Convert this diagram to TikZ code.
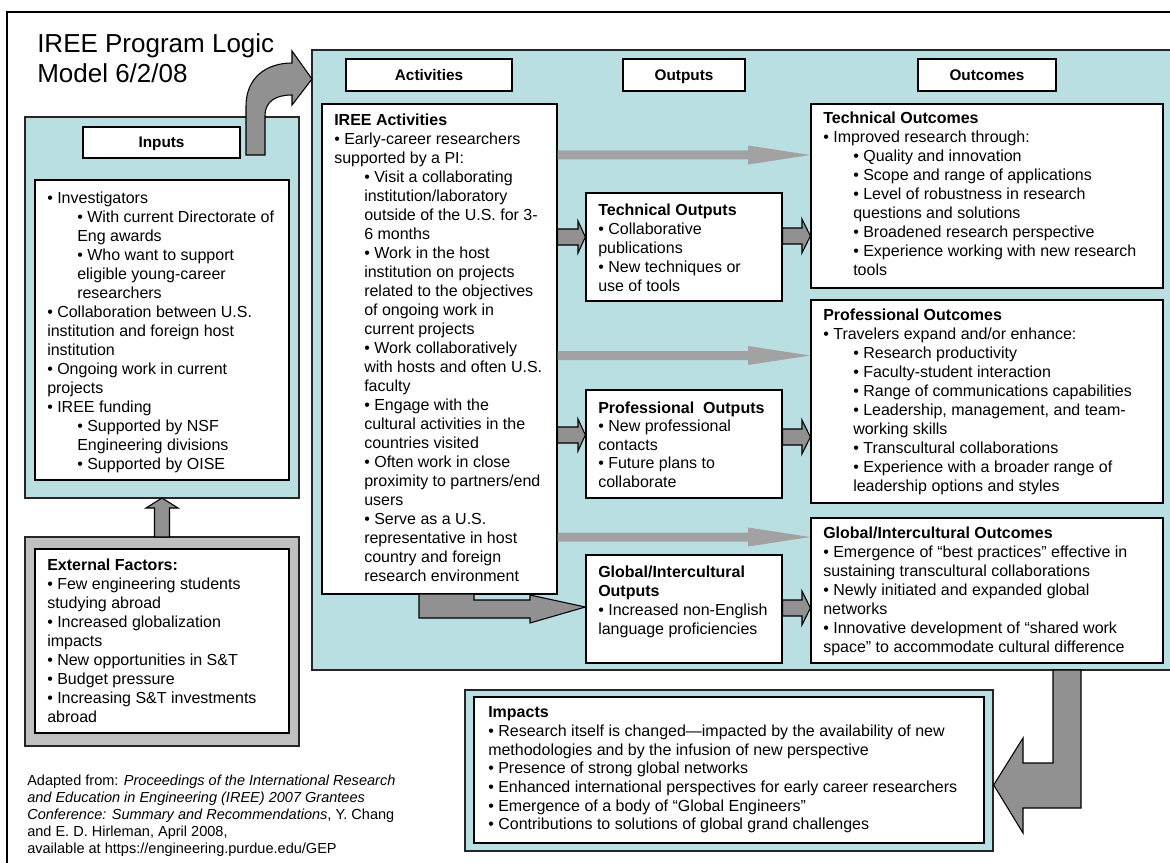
\documentclass[tikz,border=0pt]{standalone}
\usepackage{fontspec}
\setmainfont{Liberation Sans}
\usetikzlibrary{fit}
\definecolor{tealbg}{RGB}{186,223,227}
\definecolor{garr}{RGB}{145,145,145}
\definecolor{larr}{RGB}{162,162,162}
\definecolor{gpanel}{RGB}{192,192,192}
\newcommand{\ind}{\hspace*{22.5pt}}
\newcommand{\bodyfont}{\fontsize{12}{14.25}\selectfont}
\begin{document}
\begin{tikzpicture}[x=0.75pt,y=-0.75pt,
  panel/.style={draw=black!85, line width=1pt, fill=tealbg, inner sep=0pt},
  gpan/.style={draw=black!85, line width=1pt, fill=gpanel, inner sep=0pt},
  wbox/.style={draw=black, line width=1pt, fill=white, inner sep=0pt},
  hdr/.style={font=\fontsize{11.5}{13}\selectfont\bfseries, inner sep=0pt, text height=8.2pt, text depth=0.4pt},
  txt/.style={anchor=north west, inner sep=0pt, align=left, font=\bodyfont},
  barrow/.style={draw=black, line width=0.8pt, fill=garr, line join=miter},
  larrow/.style={fill=larr},
]
\useasboundingbox (0,0) rectangle (1170,863);
\clip (0,0) rectangle (1170,863);
\fill[white] (0,0) rectangle (1170,863);
\draw[line width=1.5pt] (7,880) -- (7,12) -- (1190,12);

% title
\node[anchor=north west, inner sep=0pt, align=left, font=\fontsize{19.5}{22.5}\selectfont] (title) at (37,33.4)
  {IREE Program Logic\\Model 6/2/08};

% main teal panel
\node[panel, fit={(312,50) (1185,670)}] (main) {};

% left column
\node[panel, fit={(25,117) (299,498)}] (inp) {};
\node[wbox, fit={(83,127) (240,158)}] (inph) {};
\node[hdr] (inpl) at (inph.center) {Inputs};
\node[wbox, fit={(35,180) (289,480)}] (inpb) {};
\node[txt] (inpt) at (47,191.5) {%
• Investigators\\
\ind • With current Directorate of\\
\ind Eng awards\\
\ind • Who want to support\\
\ind eligible young-career\\
\ind researchers\\
• Collaboration between U.S.\\
institution and foreign host\\
institution\\
• Ongoing work in current\\
projects\\
• IREE funding\\
\ind • Supported by NSF\\
\ind Engineering divisions\\
\ind • Supported by OISE};

\node[gpan, fit={(25,537) (299,746)}] (ext) {};
\node[wbox, fit={(35,549) (289,733)}] (extb) {};
\node[txt] (extt) at (47,558.5) {%
\textbf{External Factors:}\\
• Few engineering students\\
studying abroad\\
• Increased globalization\\
impacts\\
• New opportunities in S\&T\\
• Budget pressure\\
• Increasing S\&T investments\\
abroad};

% up arrow external -> inputs
\draw[barrow] (154.5,537) -- (154.5,508) -- (146,508) -- (162,498) -- (178,508) -- (169.5,508) -- (169.5,537) -- cycle;

% curved arrow inputs -> main
\draw[barrow] (246,155) -- (246,106) .. controls (246,78) and (266,63) .. (292,63) -- (292,51) -- (312,79) -- (292,105) -- (292,95) .. controls (276,95) and (265,101) .. (265,116) -- (265,155) -- cycle;

% footnote
\node[anchor=north west, inner sep=0pt, align=left, font=\fontsize{10.9}{12.8}\selectfont] (foot) at (27,774.6) {%
Adapted from: \textit{Proceedings of the International Research}\\
\textit{and Education in Engineering (IREE) 2007 Grantees}\\
\textit{Conference: Summary and Recommendations}, Y. Chang\\
and E. D. Hirleman, April 2008,\\
available at https://engineering.purdue.edu/GEP};

% column headers
\node[wbox, fit={(346,59) (512,91)}] (acth) {};
\node[hdr] (actl) at (acth.center) {Activities};
\node[wbox, fit={(623,59) (745,91)}] (outh) {};
\node[hdr] (outl) at (outh.center) {Outputs};
\node[wbox, fit={(918,59) (1056,91)}] (ocmh) {};
\node[hdr] (ocml) at (ocmh.center) {Outcomes};

% activities
\node[wbox, fit={(322,104) (557,594)}] (act) {};
\node[txt] (actt) at (334,113.5) {%
\textbf{IREE Activities}\\
• Early-career researchers\\
supported by a PI:\\
\ind • Visit a collaborating\\
\ind institution/laboratory\\
\ind outside of the U.S. for 3-\\
\ind 6 months\\
\ind • Work in the host\\
\ind institution on projects\\
\ind related to the objectives\\
\ind of ongoing work in\\
\ind current projects\\
\ind • Work collaboratively\\
\ind with hosts and often U.S.\\
\ind faculty\\
\ind • Engage with the\\
\ind cultural activities in the\\
\ind countries visited\\
\ind • Often work in close\\
\ind proximity to partners/end\\
\ind users\\
\ind • Serve as a U.S.\\
\ind representative in host\\
\ind country and foreign\\
\ind research environment};

% outputs
\node[wbox, fit={(586,193) (782,301)}] (tout) {};
\node[txt] (toutt) at (598,203.5) {%
\textbf{Technical Outputs}\\
• Collaborative\\
publications\\
• New techniques or\\
use of tools};
\node[wbox, fit={(586,390) (782,498)}] (pout) {};
\node[txt, font=\fontsize{12}{13.9}\selectfont] (poutt) at (598,401.5) {%
\textbf{Professional\ \ Outputs}\\
• New professional\\
contacts\\
• Future plans to\\
collaborate};
\node[wbox, fit={(586,555) (782,663)}] (gout) {};
\node[txt] (goutt) at (598,565.5) {%
\textbf{Global/Intercultural}\\
\textbf{Outputs}\\
• Increased non-English\\
language proficiencies};

% outcomes
\node[wbox, fit={(811,104) (1163,288)}] (toc) {};
\node[txt] (toct) at (823,111.5) {%
\textbf{Technical Outcomes}\\
• Improved research through:\\
\ind • Quality and innovation\\
\ind • Scope and range of applications\\
\ind • Level of robustness in research\\
\ind questions and solutions\\
\ind • Broadened research perspective\\
\ind • Experience working with new research\\
\ind tools};
\node[wbox, fit={(811,300) (1163,503)}] (poc) {};
\node[txt] (poct) at (823,308.5) {%
\textbf{Professional Outcomes}\\
• Travelers expand and/or enhance:\\
\ind • Research productivity\\
\ind • Faculty-student interaction\\
\ind • Range of communications capabilities\\
\ind • Leadership, management, and team-\\
\ind working skills\\
\ind • Transcultural collaborations\\
\ind • Experience with a broader range of\\
\ind leadership options and styles};
\node[wbox, fit={(811,518) (1163,663)}] (goc) {};
\node[txt] (goct) at (823,526.5) {%
\textbf{Global/Intercultural Outcomes}\\
• Emergence of “best practices” effective in\\
sustaining transcultural collaborations\\
• Newly initiated and expanded global\\
networks\\
• Innovative development of “shared work\\
space” to accommodate cultural difference};

% long light arrows activities -> outcomes
\fill[larrow] (act.east |- 0,150.5) -- (748,150.5) -- (748,145.5) -- (toc.west |- 0,155) -- (748,164.5) -- (748,159.5) -- (act.east |- 0,159.5) -- cycle;
\fill[larrow] (act.east |- 0,351) -- (748,351) -- (748,346) -- (poc.west |- 0,355.5) -- (748,365) -- (748,360) -- (act.east |- 0,360) -- cycle;
\fill[larrow] (act.east |- 0,532.5) -- (748,532.5) -- (748,527.5) -- (goc.west |- 0,537) -- (748,546.5) -- (748,541.5) -- (act.east |- 0,541.5) -- cycle;

% short bordered arrows activities -> outputs
\draw[barrow] (act.east |- 0,229) -- (578,229) -- (578,221) -- (tout.west |- 0,237) -- (578,253) -- (578,245) -- (act.east |- 0,245) -- cycle;
\draw[barrow] (act.east |- 0,427) -- (578,427) -- (578,419) -- (pout.west |- 0,435) -- (578,451) -- (578,443) -- (act.east |- 0,443) -- cycle;
% L arrow activities -> global outputs
\draw[barrow] (419,594) -- (419,618) -- (530,618) -- (530,623) -- (gout.west |- 0,607) -- (530,595) -- (530,600) -- (474,600) -- (474,594) -- cycle;

% short bordered arrows outputs -> outcomes
\draw[barrow] (tout.east |- 0,228) -- (802,228) -- (802,219) -- (toc.west |- 0,236) -- (802,253) -- (802,244) -- (tout.east |- 0,244) -- cycle;
\draw[barrow] (pout.east |- 0,429) -- (802,429) -- (802,420) -- (poc.west |- 0,437) -- (802,454) -- (802,445) -- (pout.east |- 0,445) -- cycle;
\draw[barrow] (gout.east |- 0,600) -- (802,600) -- (802,591) -- (goc.west |- 0,608) -- (802,625) -- (802,616) -- (gout.east |- 0,616) -- cycle;

% impacts
\node[panel, fit={(465,690) (993,851)}] (imp) {};
\node[wbox, fit={(474,697) (984,843)}] (impb) {};
\node[anchor=north west, inner sep=0pt, align=left, font=\fontsize{12}{14}\selectfont] (impt) at (488,706.5) {%
\textbf{Impacts}\\
• Research itself is changed—impacted by the availability of new\\
methodologies and by the infusion of new perspective\\
• Presence of strong global networks\\
• Enhanced international perspectives for early career researchers\\
• Emergence of a body of “Global Engineers”\\
• Contributions to solutions of global grand challenges};

% bent arrow main -> impacts
\draw[barrow] (1053,670) -- (1053,763) -- (1023,763) -- (1023,738) -- (imp.east |- 0,785) -- (1023,833) -- (1023,808) -- (1081,808) -- (1081,670) -- cycle;
\end{tikzpicture}
\end{document}
